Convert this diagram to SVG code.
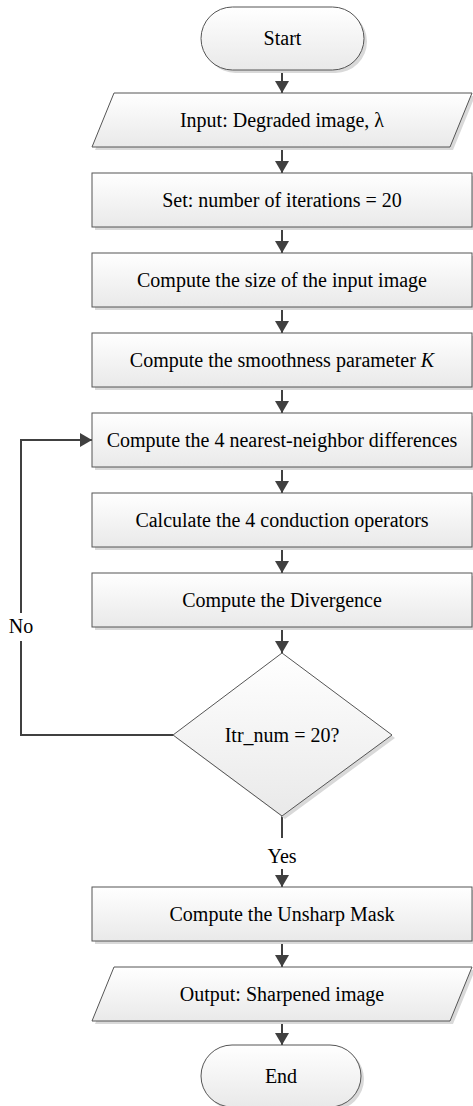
<svg xmlns="http://www.w3.org/2000/svg" width="473" height="1106" viewBox="0 0 473 1106">
<defs>
<linearGradient id="g" x1="0" y1="0" x2="0" y2="1">
<stop offset="0" stop-color="#ffffff"/>
<stop offset="1" stop-color="#e9e9e9"/>
</linearGradient>
<marker id="ah" viewBox="0 0 12 14" refX="12" refY="7" markerWidth="12" markerHeight="14" markerUnits="userSpaceOnUse" orient="auto">
<path d="M0,0 L12,7 L0,14 Z" fill="#404040"/>
</marker>
</defs>
<style>
.s{fill:url(#g);stroke:#555555;stroke-width:1}
.sh{fill:#d9d9d9;stroke:none}
.t{font-family:"Liberation Serif","Times New Roman",serif;font-size:20px;fill:#000;text-anchor:middle}
.c{fill:none;stroke:#404040;stroke-width:2}
</style>
<rect width="473" height="1106" fill="#ffffff"/>
<g id="connectors">
<line class="c" x1="282" y1="70" x2="282" y2="93" marker-end="url(#ah)"/>
<line class="c" x1="282" y1="147" x2="282" y2="173" marker-end="url(#ah)"/>
<line class="c" x1="282" y1="227" x2="282" y2="253" marker-end="url(#ah)"/>
<line class="c" x1="282" y1="307" x2="282" y2="333" marker-end="url(#ah)"/>
<line class="c" x1="282" y1="387" x2="282" y2="413" marker-end="url(#ah)"/>
<line class="c" x1="282" y1="467" x2="282" y2="493" marker-end="url(#ah)"/>
<line class="c" x1="282" y1="547" x2="282" y2="573" marker-end="url(#ah)"/>
<line class="c" x1="282" y1="627" x2="282" y2="653" marker-end="url(#ah)"/>
<polyline class="c" points="173,735 21,735 21,641"/>
<polyline class="c" points="21,613 21,440 92,440" marker-end="url(#ah)"/>
<text class="t" x="21" y="633">No</text>
<line class="c" x1="282" y1="816" x2="282" y2="838"/>
<text class="t" x="282" y="863">Yes</text>
<line class="c" x1="282" y1="869" x2="282" y2="887" marker-end="url(#ah)"/>
<line class="c" x1="282" y1="941" x2="282" y2="967" marker-end="url(#ah)"/>
<line class="c" x1="282" y1="1021" x2="282" y2="1045" marker-end="url(#ah)"/>
</g>
<g id="start">
<rect class="sh" x="204" y="10" width="163" height="63" rx="31.5"/>
<rect class="s" x="201" y="7" width="163" height="63" rx="31.5"/>
<text class="t" x="282.5" y="45">Start</text>
</g>
<g id="input">
<polygon class="sh" points="117,96 475,96 453,150 95,150"/>
<polygon class="s" points="114,93 472,93 450,147 92,147"/>
<text class="t" x="282" y="127">Input: Degraded image, λ</text>
</g>
<g id="set">
<rect class="sh" x="95" y="176" width="380" height="54"/>
<rect class="s" x="92" y="173" width="380" height="54"/>
<text class="t" x="282" y="207">Set: number of iterations = 20</text>
</g>
<g id="size">
<rect class="sh" x="95" y="256" width="380" height="54"/>
<rect class="s" x="92" y="253" width="380" height="54"/>
<text class="t" x="282" y="287">Compute the size of the input image</text>
</g>
<g id="smooth">
<rect class="sh" x="95" y="336" width="380" height="54"/>
<rect class="s" x="92" y="333" width="380" height="54"/>
<text class="t" x="282" y="367">Compute the smoothness parameter <tspan font-style="italic">K</tspan></text>
</g>
<g id="nearest">
<rect class="sh" x="95" y="416" width="380" height="54"/>
<rect class="s" x="92" y="413" width="380" height="54"/>
<text class="t" x="282" y="447">Compute the 4 nearest-neighbor differences</text>
</g>
<g id="conduction">
<rect class="sh" x="95" y="496" width="380" height="54"/>
<rect class="s" x="92" y="493" width="380" height="54"/>
<text class="t" x="282" y="527">Calculate the 4 conduction operators</text>
</g>
<g id="divergence">
<rect class="sh" x="95" y="576" width="380" height="54"/>
<rect class="s" x="92" y="573" width="380" height="54"/>
<text class="t" x="282" y="607">Compute the Divergence</text>
</g>
<g id="decision">
<polygon class="sh" points="285,656 395,738 285,819 176,738"/>
<polygon class="s" points="282,653 392,735 282,816 173,735"/>
<text class="t" x="282" y="742">Itr_num = 20?</text>
</g>
<g id="unsharp">
<rect class="sh" x="95" y="890" width="380" height="54"/>
<rect class="s" x="92" y="887" width="380" height="54"/>
<text class="t" x="282" y="921">Compute the Unsharp Mask</text>
</g>
<g id="output">
<polygon class="sh" points="117,970 475,970 453,1024 95,1024"/>
<polygon class="s" points="114,967 472,967 450,1021 92,1021"/>
<text class="t" x="282" y="1001">Output: Sharpened image</text>
</g>
<g id="end">
<rect class="sh" x="204" y="1048" width="160" height="62" rx="31"/>
<rect class="s" x="201" y="1045" width="160" height="62" rx="31"/>
<text class="t" x="281" y="1083">End</text>
</g>
</svg>
